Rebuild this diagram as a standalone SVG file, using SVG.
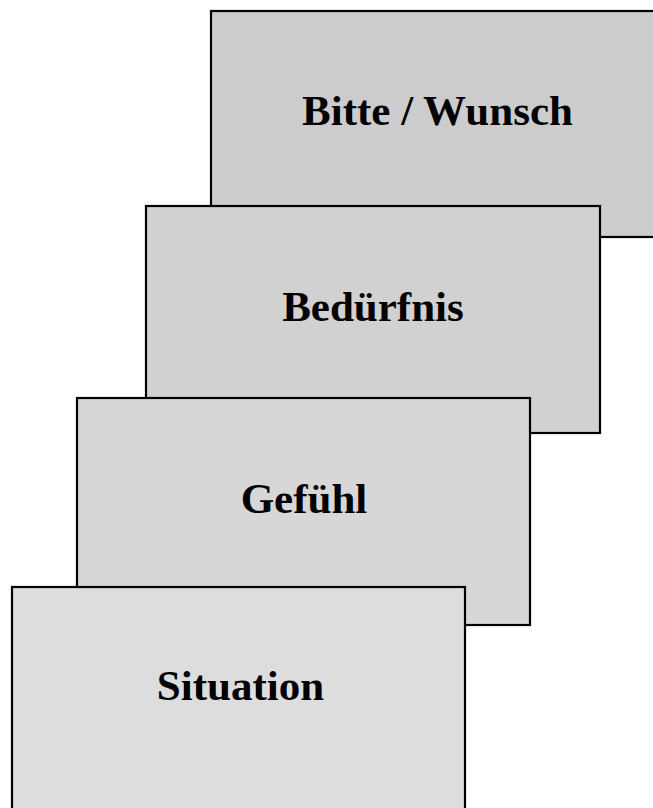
<svg xmlns="http://www.w3.org/2000/svg" width="653" height="808" viewBox="0 0 653 808">
<style>
.box{stroke:#000;stroke-width:2.2}
.lbl{font-family:"Liberation Serif","Times New Roman",serif;font-weight:bold;font-size:43px;fill:#000;text-anchor:middle}
</style>
<rect x="0" y="0" width="653" height="808" fill="#fff"/>
<g id="bitte">
<rect class="box" x="211" y="11" width="454" height="226" fill="#cccccc"/>
<text class="lbl" x="437.5" y="124.5">Bitte / Wunsch</text>
</g>
<g id="beduerfnis">
<rect class="box" x="146" y="206" width="454" height="227" fill="#d1d1d1"/>
<text class="lbl" x="373" y="320.5">Bedürfnis</text>
</g>
<g id="gefuehl">
<rect class="box" x="77" y="398" width="453" height="227" fill="#d7d7d7"/>
<text class="lbl" x="304" y="512.5">Gefühl</text>
</g>
<g id="situation">
<rect class="box" x="12" y="587" width="453" height="227" fill="#dddddd"/>
<text class="lbl" x="240.5" y="699.5">Situation</text>
</g>
<g id="connectors"></g>
</svg>
